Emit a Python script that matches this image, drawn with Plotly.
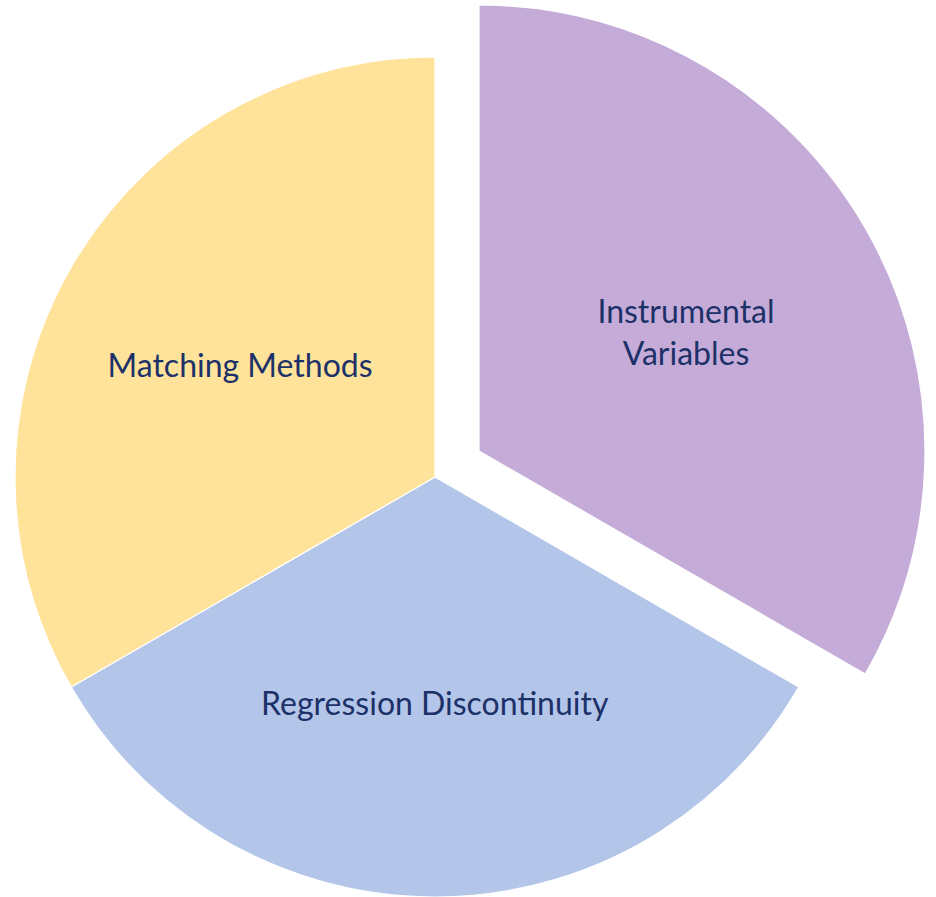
import plotly.graph_objects as go

# Data
labels = ["Instrumental Variables", "Regression Discontinuity", "Matching Methods"]
display_text = ["Instrumental<br>Variables", "Regression Discontinuity", "Matching Methods"]
values = [1, 1, 1]
colors = ["#C5ABD8", "#B3C5E8", "#FFE39B"]
exploded = "Instrumental Variables"

W, H = 936, 897
TEXT_COLOR = "#1D3169"
FONT = dict(family="Lato, 'Open Sans', sans-serif", size=32, color=TEXT_COLOR)


def domain_from_pixels(cx, cy, r):
    x0, x1 = (cx - r) / W, (cx + r) / W
    y0, y1 = (H - (cy + r)) / H, (H - (cy - r)) / H
    return dict(x=[max(0, x0), min(1, x1)], y=[max(0, y0), min(1, y1)])


is_exp = [lab == exploded for lab in labels]

# main pie (exploded slice hidden)
main_colors = ["rgba(0,0,0,0)" if e else c for c, e in zip(colors, is_exp)]
main_text = ["" if e else t for t, e in zip(display_text, is_exp)]
main_lw = [0 if e else 1.2 for e in is_exp]

# exploded slice (others hidden)
exp_colors = [c if e else "rgba(0,0,0,0)" for c, e in zip(colors, is_exp)]
exp_text = [t if e else "" for t, e in zip(display_text, is_exp)]
exp_lw = [1.2 if e else 0 for e in is_exp]

fig = go.Figure()
fig.add_trace(go.Pie(
    labels=labels, values=values, text=main_text, textinfo="text",
    sort=False, direction="clockwise", rotation=0,
    marker=dict(colors=main_colors, line=dict(color="white", width=main_lw)),
    textposition="inside", insidetextorientation="horizontal",
    insidetextfont=FONT, hoverinfo="label",
    domain=domain_from_pixels(435, 477, 420), showlegend=False,
))
fig.add_trace(go.Pie(
    labels=labels, values=values, text=exp_text, textinfo="text",
    sort=False, direction="clockwise", rotation=0,
    marker=dict(colors=exp_colors, line=dict(color="white", width=exp_lw)),
    textposition="inside", insidetextorientation="horizontal",
    insidetextfont=FONT, hoverinfo="label",
    domain=domain_from_pixels(479, 451, 446), showlegend=False,
))

fig.update_layout(
    width=W, height=H,
    margin=dict(l=0, r=0, t=0, b=0),
    paper_bgcolor="white", plot_bgcolor="white",
    showlegend=False,
)

fig.write_html("out.html")
